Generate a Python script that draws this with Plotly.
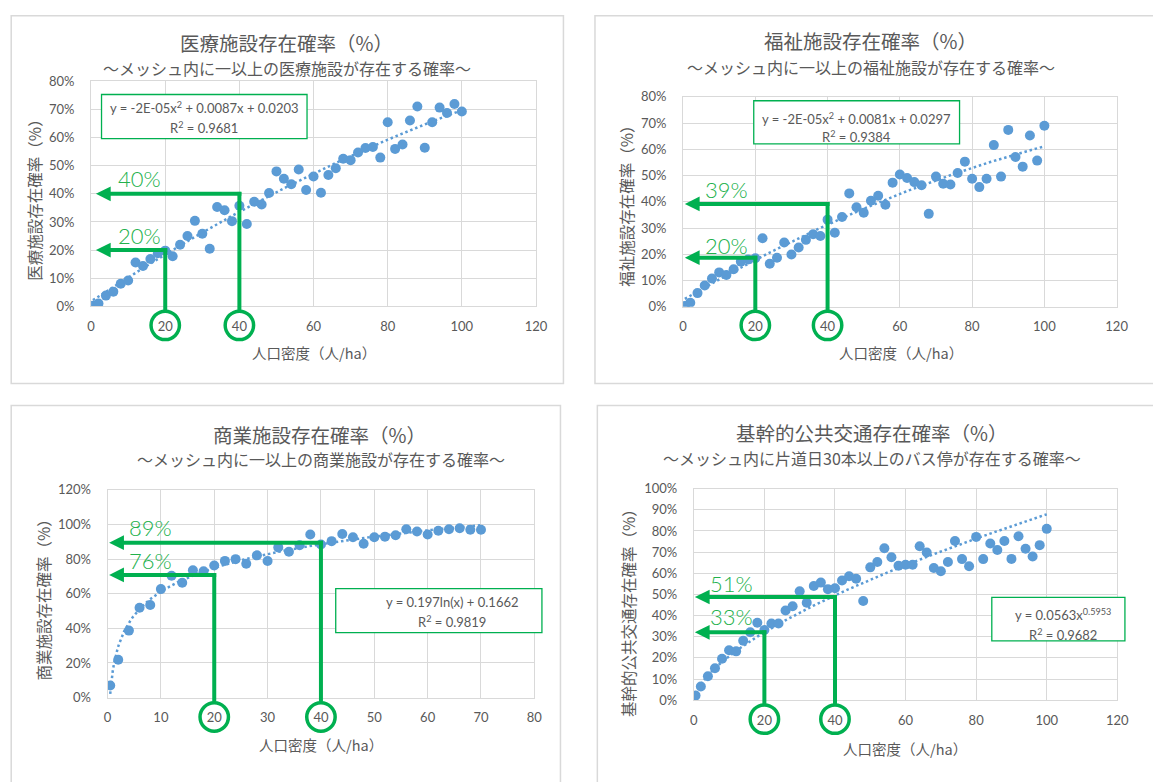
import numpy as np
import plotly.graph_objects as go

W, H = 1153, 782
JP = "Noto Sans CJK JP"
NUM = "Lato"
GRAY = "#595959"
GRID = "#D9D9D9"
BLUE = "#5B9BD5"
GREEN = "#00B050"

# ---------------- data ----------------
x_med = [0.5, 2, 4, 6, 8, 10, 12, 14, 16, 18, 20, 22, 24, 26, 28, 30, 32, 34, 36, 38, 40,
         42, 44, 46, 48, 50, 52, 54, 56, 58, 60, 62, 64, 66, 68, 70, 72, 74, 76, 78, 80,
         82, 84, 86, 88, 90, 92, 94, 96, 98, 100]
y_med = [0.2, 1.0, 3.8, 5.2, 8.0, 9.2, 15.6, 14.3, 16.8, 18.9, 19.8, 17.8, 21.9, 25.0, 30.4,
         25.8, 20.5, 35.3, 34.2, 30.3, 35.8, 29.3, 37.2, 36.2, 40.3, 48.0, 45.4, 43.4, 48.7,
         41.4, 46.2, 40.4, 46.7, 49.1, 52.5, 52.0, 54.7, 56.3, 56.7, 52.9, 65.5, 56.0, 57.6,
         66.1, 71.1, 56.4, 65.5, 70.7, 68.8, 72.0, 69.3]

x_wel = [0.5, 2, 4, 6, 8, 10, 12, 14, 16, 18, 20, 22, 24, 26, 28, 30, 32, 34, 36, 38, 40,
         42, 44, 46, 48, 50, 52, 54, 56, 58, 60, 62, 64, 66, 68, 70, 72, 74, 76, 78, 80,
         82, 84, 86, 88, 90, 92, 94, 96, 98, 100]
y_wel = [0.3, 1.5, 5.2, 8.1, 10.8, 13.1, 12.1, 14.3, 17.2, 18.0, 18.5, 26.1, 16.4, 18.7, 24.5,
         19.9, 22.6, 25.5, 27.6, 27.0, 33.2, 28.2, 34.2, 43.2, 37.9, 35.8, 40.4, 42.3, 38.9,
         47.3, 50.4, 49.1, 47.5, 46.3, 35.4, 49.6, 46.9, 46.6, 51.0, 55.3, 48.8, 45.6, 48.8,
         61.6, 49.6, 67.4, 57.1, 53.4, 65.3, 55.7, 69.0]

x_com = [0.5, 2, 4, 6, 8, 10, 12, 14, 16, 18, 20, 22, 24, 26, 28, 30, 32, 34, 36, 38, 40,
         42, 44, 46, 48, 50, 52, 54, 56, 58, 60, 62, 64, 66, 68, 70]
y_com = [7.0, 21.9, 38.7, 51.9, 53.5, 62.7, 70.4, 66.4, 73.6, 73.0, 76.3, 79.0, 80.0, 77.3,
         82.2, 78.9, 86.8, 84.3, 88.0, 94.2, 88.5, 90.4, 94.5, 92.7, 88.9, 92.7, 93.0, 93.8,
         97.3, 96.0, 94.2, 96.4, 97.3, 97.9, 97.0, 97.0]

x_bus = [0.5, 2, 4, 6, 8, 10, 12, 14, 16, 18, 20, 22, 24, 26, 28, 30, 32, 34, 36, 38, 40,
         42, 44, 46, 48, 50, 52, 54, 56, 58, 60, 62, 64, 66, 68, 70, 72, 74, 76, 78, 80,
         82, 84, 86, 88, 90, 92, 94, 96, 98, 100]
y_bus = [2.2, 6.5, 11.3, 15.1, 19.6, 23.6, 23.1, 28.1, 32.1, 36.6, 33.2, 36.3, 36.3, 42.4,
         44.4, 51.5, 46.1, 54.0, 55.6, 52.5, 52.9, 56.6, 58.6, 57.4, 46.9, 62.8, 65.3, 71.8,
         67.6, 63.6, 64.0, 64.0, 72.8, 69.8, 62.5, 61.0, 65.3, 75.3, 66.7, 63.3, 77.2, 66.7,
         74.1, 71.0, 75.3, 66.8, 77.5, 71.6, 67.9, 73.3, 81.0]

titles = ["医療施設存在確率（%）", "福祉施設存在確率（%）", "商業施設存在確率（%）", "基幹的公共交通存在確率（%）"]
subtitles = ["～メッシュ内に一以上の医療施設が存在する確率～",
             "～メッシュ内に一以上の福祉施設が存在する確率～",
             "～メッシュ内に一以上の商業施設が存在する確率～",
             "～メッシュ内に片道日30本以上のバス停が存在する確率～"]
ytitles = ["医療施設存在確率（%）", "福祉施設存在確率（%）", "商業施設存在確率（%）", "基幹的公共交通存在確率（%）"]
xtitle = "人口密度（人/ha）"
eq_line1 = ["y = -2E-05x<sup>2</sup> + 0.0087x + 0.0203",
            "y = -2E-05x<sup>2</sup> + 0.0081x + 0.0297",
            "y = 0.197ln(x) + 0.1662",
            "y = 0.0563x<sup>0.5953</sup>"]
eq_line2 = ["R<sup>2</sup> = 0.9681", "R<sup>2</sup> = 0.9384", "R<sup>2</sup> = 0.9819", "R<sup>2</sup> = 0.9682"]

# reading guides: (density, probability at arrow, label)
guides = [
    [(20, 0.20, "20%"), (40, 0.40, "40%")],
    [(20, 0.187, "20%"), (40, 0.392, "39%")],
    [(20, 0.709, "76%"), (40, 0.895, "89%")],
    [(20, 0.321, "33%"), (40, 0.488, "51%")],
]
arrow_tip = [1.3, 0.5, 0.3, 0.3]

# ---------------- layout geometry (pixels) ----------------
panels = [
    dict(px=(88.3, 539.5), py=(75.0, 304.5), xr=[0, 120], xd=20, yr=[0, 0.8], yd=0.1),
    dict(px=(688.6, 1128.3), py=(90.7, 305.0), xr=[0, 120], xd=20, yr=[0, 0.8], yd=0.1),
    dict(px=(105.0, 537.8), py=(492.0, 704.0), xr=[0, 80], xd=10, yr=[0, 1.2], yd=0.2),
    dict(px=(699.5, 1129.0), py=(490.7, 706.7), xr=[0, 120], xd=20, yr=[0, 1.0], yd=0.1),
]
cards = [(7.3, 8, 567.3, 383.3), (599.3, 8, 1170, 383.3), (7.3, 405.7, 564.3, 800), (601.7, 405.7, 1170, 800)]
title_pos = [(286.5, 35), (878.3, 33.3), (320, 435), (879.5, 433.3)]
sub_pos = [(287.3, 61), (879.5, 60), (321.8, 460.7), (880.5, 459.3)]
xt_pos = [(314.5, 352), (909.5, 351.7), (321, 752.3), (914, 755.7)]
yt_pos = [(31, 192), (630.5, 198), (39.3, 600), (633.4, 614)]
eq_box = [(98.9, 88.3, 307.3, 133.3), (760.3, 94.7, 969, 138.7), (336.4, 592.7, 545.5, 637.7),
          (1001.7, 601.7, 1136.7, 646)]
eq_txt = [(203, 101.7, 121.7), (864, 112.3, 131), (454.5, 606.7, 626.7), (1074, 619.5, 639.3)]
lab_left = [113.5, 708.6, 125, 714]
lab_y = [(232, 174.5), (242.3, 185.7), (564, 530.8), (620.7, 587.7)]
circ_y = [324, 324, 723.8, 726]


def fx(p):
    return p / W


def fy(p):
    return 1 - p / H


fig = go.Figure()

series = [(x_med, y_med, "poly"), (x_wel, y_wel, "poly"), (x_com, y_com, "log"), (x_bus, y_bus, "pow")]

for i, (xs, ys, kind) in enumerate(series):
    xa = "x" if i == 0 else f"x{i+1}"
    ya = "y" if i == 0 else f"y{i+1}"
    xv = np.array(xs, dtype=float)
    yv = np.array(ys, dtype=float) / 100.0
    xx = np.linspace(xv.min(), xv.max(), 300)
    if kind == "poly":
        c = np.polyfit(xv, yv, 2)
        yy = np.polyval(c, xx)
    elif kind == "log":
        c = np.polyfit(np.log(xv), yv, 1)
        yy = c[0] * np.log(xx) + c[1]
    else:
        c = np.polyfit(np.log(xv), np.log(yv), 1)
        yy = np.exp(c[1]) * xx ** c[0]
    fig.add_trace(go.Scatter(x=xx, y=yy, mode="lines", xaxis=xa, yaxis=ya,
                             line=dict(color=BLUE, width=2.5, dash="2.5px,2.8px"),
                             hoverinfo="skip", showlegend=False))
    fig.add_trace(go.Scatter(x=xv, y=yv, mode="markers", xaxis=xa, yaxis=ya,
                             marker=dict(color=BLUE, size=10, line=dict(width=0)),
                             showlegend=False))

shapes = []
annotations = []
layout_axes = {}
for i, p in enumerate(panels):
    sx = "" if i == 0 else str(i + 1)
    xref, yref = f"x{sx}", f"y{sx}"
    layout_axes[f"xaxis{sx}"] = dict(
        domain=[fx(p["px"][0]), fx(p["px"][1])], range=p["xr"], dtick=p["xd"], tick0=0,
        anchor=yref, showgrid=True, gridcolor=GRID, gridwidth=1, zeroline=False,
        showline=True, linecolor=GRID, linewidth=1, mirror=True, ticks="",
        tickfont=dict(family=NUM, size=13, color=GRAY), ticklabelstandoff=8)
    layout_axes[f"yaxis{sx}"] = dict(
        domain=[fy(p["py"][1]), fy(p["py"][0])], range=p["yr"], dtick=p["yd"], tick0=0,
        anchor=xref, showgrid=True, gridcolor=GRID, gridwidth=1, zeroline=False,
        showline=True, linecolor=GRID, linewidth=1, mirror=True, ticks="", tickformat=".0%",
        tickfont=dict(family=NUM, size=13, color=GRAY), ticklabelstandoff=13)

    # card outline
    c = cards[i]
    shapes.append(dict(type="rect", xref="paper", yref="paper", x0=fx(c[0]), x1=fx(c[2]),
                       y0=fy(c[3]), y1=fy(c[1]), line=dict(color=GRID, width=1.5), layer="below"))
    # titles
    annotations.append(dict(xref="paper", yref="paper", x=fx(title_pos[i][0]), y=fy(title_pos[i][1]),
                            text=titles[i], showarrow=False, xanchor="center", yanchor="middle",
                            font=dict(family=JP, size=19.5, color=GRAY)))
    annotations.append(dict(xref="paper", yref="paper", x=fx(sub_pos[i][0]), y=fy(sub_pos[i][1]),
                            text=subtitles[i], showarrow=False, xanchor="center", yanchor="middle",
                            font=dict(family=JP, size=16, color=GRAY)))
    annotations.append(dict(xref="paper", yref="paper", x=fx(xt_pos[i][0]), y=fy(xt_pos[i][1]),
                            text=xtitle, showarrow=False, xanchor="center", yanchor="middle",
                            font=dict(family=JP, size=14.5, color=GRAY)))
    annotations.append(dict(xref="paper", yref="paper", x=fx(yt_pos[i][0]), y=fy(yt_pos[i][1]),
                            text=ytitles[i], showarrow=False, xanchor="center", yanchor="middle",
                            textangle=-90, font=dict(family=JP, size=15.5, color=GRAY)))
    # equation box
    b = eq_box[i]
    shapes.append(dict(type="rect", xref="paper", yref="paper", x0=fx(b[0]), x1=fx(b[2]),
                       y0=fy(b[3]), y1=fy(b[1]), line=dict(color=GREEN, width=1.3),
                       fillcolor="white", layer="above"))
    t = eq_txt[i]
    annotations.append(dict(xref="paper", yref="paper", x=fx(t[0]), y=fy(t[1]), text=eq_line1[i],
                            showarrow=False, xanchor="center", yanchor="middle",
                            font=dict(family=NUM, size=13, color=GRAY)))
    annotations.append(dict(xref="paper", yref="paper", x=fx(t[0]), y=fy(t[2]), text=eq_line2[i],
                            showarrow=False, xanchor="center", yanchor="middle",
                            font=dict(family=NUM, size=13, color=GRAY)))

    # reading guides
    ppu_x = (p["px"][1] - p["px"][0]) / (p["xr"][1] - p["xr"][0])
    ppu_y = (p["py"][1] - p["py"][0]) / (p["yr"][1] - p["yr"][0])
    axis_px = p["py"][1]
    lw = 4
    head_len, head_half = 15.0, 7.5
    for k, (gx, gy, lab) in enumerate(guides[i]):
        val_px = axis_px - gy * ppu_y
        circ_top = circ_y[i] - 15.5
        # vertical segment from circle to guide level
        shapes.append(dict(type="line", xref=xref, yref="paper", x0=gx, x1=gx,
                           y0=fy(circ_top), y1=fy(val_px - lw / 2),
                           line=dict(color=GREEN, width=lw), layer="above"))
        # horizontal segment towards the y axis
        tip = arrow_tip[i]
        shapes.append(dict(type="line", xref=xref, yref=yref,
                           x0=tip + (head_len - 2) / ppu_x, x1=gx + (lw / 2) / ppu_x, y0=gy, y1=gy,
                           line=dict(color=GREEN, width=lw), layer="above"))
        # arrow head
        hx = tip + head_len / ppu_x
        hy = head_half / ppu_y
        shapes.append(dict(type="path", xref=xref, yref=yref,
                           path=f"M{tip},{gy} L{hx},{gy + hy} L{hx},{gy - hy} Z",
                           fillcolor=GREEN, line=dict(width=0), layer="above"))
        # circle around tick label
        shapes.append(dict(type="circle", xref=xref, yref="paper", xsizemode="pixel",
                           ysizemode="pixel", xanchor=gx, yanchor=fy(circ_y[i]),
                           x0=-14.2, x1=14.2, y0=-14.2, y1=14.2,
                           line=dict(color=GREEN, width=3.5), layer="above"))
        # label
        annotations.append(dict(xref="paper", yref="paper", x=fx(lab_left[i]), y=fy(lab_y[i][k]),
                                text=lab, showarrow=False, xanchor="left", yanchor="middle",
                                font=dict(family=NUM, size=22, color="#22B14C", weight=300)))

fig.update_layout(
    width=W, height=H, margin=dict(l=0, r=0, t=0, b=0),
    paper_bgcolor="white", plot_bgcolor="white",
    shapes=shapes, annotations=annotations, showlegend=False,
    modebar=dict(bgcolor="rgba(0,0,0,0)", color="rgba(0,0,0,0)", activecolor="rgba(0,0,0,0)"),
    **layout_axes,
)

fig.write_html("out.html", config={"displayModeBar": False},
               post_script="document.body.style.margin='0';document.body.style.overflow='hidden';")
